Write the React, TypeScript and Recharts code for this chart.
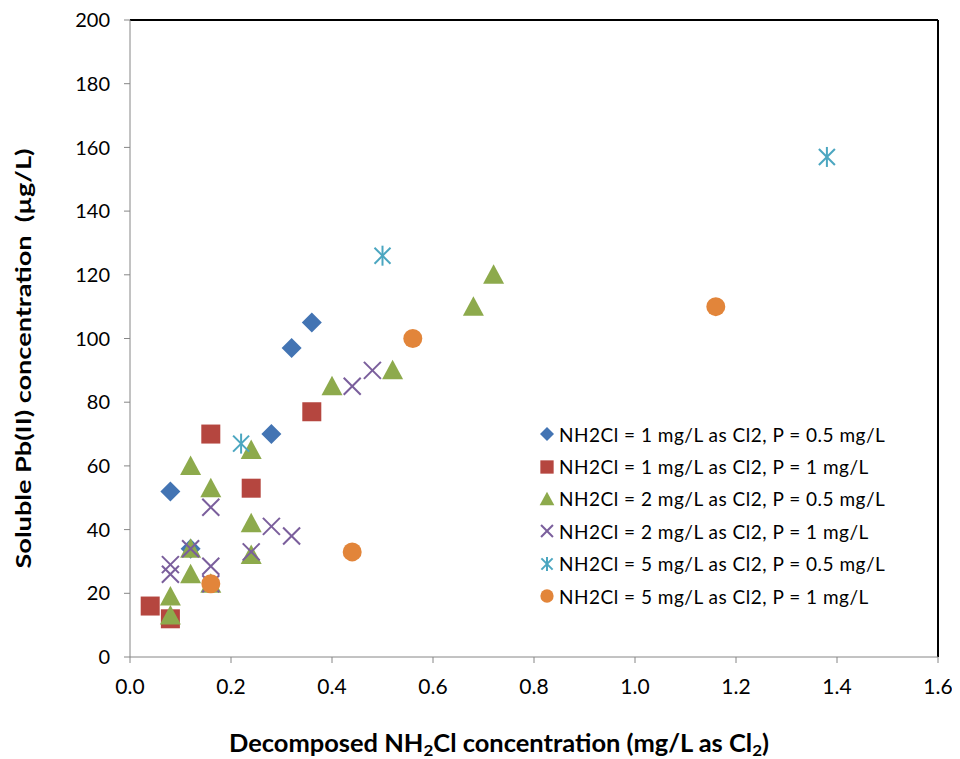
import React from "react";
import {
  ScatterChart,
  Scatter,
  XAxis,
  YAxis,
  Legend,
  ReferenceLine
} from "recharts";

// series values (x = decomposed NH2Cl, y = soluble Pb(II))
const s1x = [0.08, 0.12, 0.28, 0.32, 0.36];
const s1y = [52, 34, 70, 97, 105];
const s2x = [0.04, 0.08, 0.16, 0.24, 0.36];
const s2y = [16, 12, 70, 53, 77];
const s3x = [0.08, 0.08, 0.12, 0.12, 0.12, 0.16, 0.16, 0.24, 0.24, 0.24, 0.4, 0.52, 0.68, 0.72];
const s3y = [19, 13, 60, 34, 26, 53, 23, 65, 42, 32, 85, 90, 110, 120];
const s4x = [0.08, 0.08, 0.12, 0.16, 0.16, 0.16, 0.24, 0.28, 0.32, 0.44, 0.48];
const s4y = [29, 26, 34, 47, 28.5, 23, 33, 41, 38, 85, 90];
const s5x = [0.22, 0.5, 1.38];
const s5y = [67, 126, 157];
const s6x = [0.16, 0.44, 0.56, 1.16];
const s6y = [23, 33, 100, 110];

const seriesNames = [
  "NH2Cl = 1 mg/L as Cl2, P = 0.5 mg/L",
  "NH2Cl = 1 mg/L as Cl2, P = 1 mg/L",
  "NH2Cl = 2 mg/L as Cl2, P = 0.5 mg/L",
  "NH2Cl = 2 mg/L as Cl2, P = 1 mg/L",
  "NH2Cl = 5 mg/L as Cl2, P = 0.5 mg/L",
  "NH2Cl = 5 mg/L as Cl2, P = 1 mg/L"
];
const xTicks = [0, 0.2, 0.4, 0.6, 0.8, 1.0, 1.2, 1.4, 1.6];
const yTicks = [0, 20, 40, 60, 80, 100, 120, 140, 160, 180, 200];

const colors = ["#4374B3", "#B5463F", "#8DAA4C", "#7A5E9C", "#4BA6C0", "#E2853A"];
const kinds = ["diamond", "square", "triangle", "x", "star", "circle"];

const toPoints = (xs: number[], ys: number[]) => xs.map((x, i) => ({ x, y: ys[i] }));
const seriesData = [
  toPoints(s1x, s1y),
  toPoints(s2x, s2y),
  toPoints(s3x, s3y),
  toPoints(s4x, s4y),
  toPoints(s5x, s5y),
  toPoints(s6x, s6y)
];

const FONT = "Lato, 'Noto Sans', sans-serif";

const Marker = ({ kind, cx, cy, color, r }: any) => {
  switch (kind) {
    case "diamond":
      return <polygon points={`${cx},${cy - r} ${cx + r},${cy} ${cx},${cy + r} ${cx - r},${cy}`} fill={color} />;
    case "square":
      return <rect x={cx - r * 0.95} y={cy - r * 0.95} width={r * 1.9} height={r * 1.9} fill={color} />;
    case "triangle":
      return <polygon points={`${cx},${cy - r * 1.05} ${cx + r * 1.05},${cy + r * 0.9} ${cx - r * 1.05},${cy + r * 0.9}`} fill={color} />;
    case "x": {
      const d = r * 0.85;
      return (
        <g stroke={color} strokeWidth={2}>
          <line x1={cx - d} y1={cy - d} x2={cx + d} y2={cy + d} />
          <line x1={cx - d} y1={cy + d} x2={cx + d} y2={cy - d} />
        </g>
      );
    }
    case "star": {
      const d = r * 0.8;
      return (
        <g stroke={color} strokeWidth={2}>
          <line x1={cx - d} y1={cy - d} x2={cx + d} y2={cy + d} />
          <line x1={cx - d} y1={cy + d} x2={cx + d} y2={cy - d} />
          <line x1={cx} y1={cy - r} x2={cx} y2={cy + r} />
        </g>
      );
    }
    default:
      return <circle cx={cx} cy={cy} r={r * 0.95} fill={color} />;
  }
};

const LegendBox = () => (
  <div style={{ fontFamily: FONT, fontSize: 19, letterSpacing: 0.5, color: "#000" }}>
    {seriesNames.map((name, i) => (
      <div key={name} style={{ display: "flex", alignItems: "center", height: 32.4 }}>
        <svg width={16} height={16} style={{ marginRight: 4 }}>
          <Marker kind={kinds[i]} cx={8} cy={8} r={7} color={colors[i]} />
        </svg>
        <span style={{ whiteSpace: "nowrap" }}>{name}</span>
      </div>
    ))}
  </div>
);

const XLabel = ({ viewBox }: any) => {
  const cx = viewBox.x + viewBox.width / 2 - 35;
  return (
    <text
      x={cx}
      y={744}
      textAnchor="middle"
      fontFamily={FONT}
      fontWeight="bold"
      fontSize={24}
      fill="#000"
      textLength={540}
      lengthAdjust="spacingAndGlyphs"
    >
      Decomposed NH<tspan dy={4} fontSize={16}>2</tspan>
      <tspan dy={-4}>Cl concentration (mg/L as Cl</tspan>
      <tspan dy={4} fontSize={16}>2</tspan>
      <tspan dy={-4}>)</tspan>
    </text>
  );
};

const YLabel = ({ viewBox }: any) => {
  const cy = viewBox.y + viewBox.height / 2 + 20;
  const cx = 14;
  return (
    <text
      x={cx}
      y={cy}
      transform={`rotate(-90 ${cx} ${cy})`}
      textAnchor="middle"
      dominantBaseline="central"
      fontFamily={FONT}
      fontWeight="bold"
      fontSize={21}
      fill="#000"
      textLength={420}
      lengthAdjust="spacingAndGlyphs"
      style={{ whiteSpace: "pre" }}
    >
      {"Soluble Pb(II) concentration  (µg/L)"}
    </text>
  );
};

const App = () => {
  return (
    <ScatterChart width={944} height={751} margin={{ top: 12, right: 14, left: 0, bottom: 8 }}>
      <XAxis
        type="number"
        dataKey="x"
        domain={[0, 1.6]}
        ticks={xTicks}
        tickFormatter={(v: number) => v.toFixed(1)}
        height={94}
        stroke="#868686"
        tickSize={6}
        tickMargin={16}
        tick={{ fill: "#000", fontFamily: FONT, fontSize: 21 }}
        label={{ content: XLabel } as any}
      />
      <YAxis
        type="number"
        dataKey="y"
        domain={[0, 200]}
        ticks={yTicks}
        width={122}
        stroke="#868686"
        tickSize={6}
        tickMargin={14}
        tick={{ fill: "#000", fontFamily: FONT, fontSize: 20 }}
        label={{ content: YLabel } as any}
      />
      <ReferenceLine y={200} stroke="#000" strokeWidth={2} />
      <ReferenceLine x={1.6} stroke="#000" strokeWidth={2} />
      {seriesData.map((d, i) => (
        <Scatter
          key={seriesNames[i]}
          name={seriesNames[i]}
          data={d}
          fill={colors[i]}
          isAnimationActive={false}
          shape={(p: any) => <Marker kind={kinds[i]} cx={p.cx} cy={p.cy} r={10} color={colors[i]} />}
        />
      ))}
      <Legend
        layout="vertical"
        align="center"
        verticalAlign="middle"
        content={() => <LegendBox />}
        wrapperStyle={{ left: 531, top: 410, width: 410 }}
      />
    </ScatterChart>
  );
};

export default App;
